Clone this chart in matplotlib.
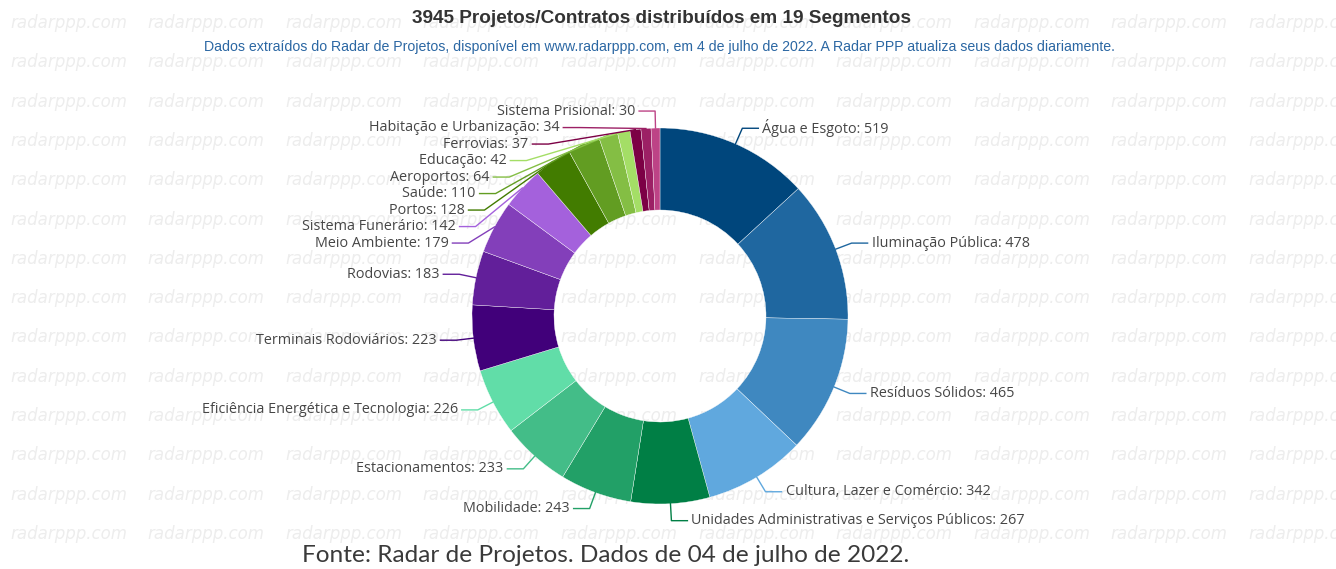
import numpy as np
import matplotlib.pyplot as plt

# Dados (radarppp.com, 04/07/2022)
segmentos = ['Água e Esgoto', 'Iluminação Pública', 'Resíduos Sólidos',
             'Cultura, Lazer e Comércio',
             'Unidades Administrativas e Serviços Públicos', 'Mobilidade',
             'Estacionamentos', 'Eficiência Energética e Tecnologia',
             'Terminais Rodoviários', 'Rodovias', 'Meio Ambiente',
             'Sistema Funerário', 'Portos', 'Saúde', 'Aeroportos', 'Educação',
             'Ferrovias', 'Habitação e Urbanização', 'Sistema Prisional']
projetos = [519, 478, 465, 342, 267, 243, 233, 226, 223, 183, 179, 142, 128,
            110, 64, 42, 37, 34, 30]
cores = ['#00467c', '#1f67a0', '#3f88c0', '#60a8de', '#007f45', '#22a067',
         '#43bd88', '#61dda8', '#41007a', '#621f9a', '#833fba', '#a461dc',
         '#427c00', '#629d22', '#84be44', '#a4de66', '#7c0045', '#9c2065',
         '#bd4386']

titulo = '3945 Projetos/Contratos distribuídos em 19 Segmentos'
subtitulo = ('Dados extraídos do Radar de Projetos, disponível em www.radarppp.com, '
             'em 4 de julho de 2022. A Radar PPP atualiza seus dados diariamente.')
rodape = 'Fonte: Radar de Projetos. Dados de 04 de julho de 2022.'

W, H = 1336, 569
cx, cy = 660, 316          # centro da rosca (pixels)
R = 188                    # raio externo
larg = 82                  # espessura do anel

fig = plt.figure(figsize=(W / 100, H / 100), dpi=100)
ax = fig.add_axes([0, 0, 1, 1])

# marca d'agua
for lin in range(14):
    for col in range(10):
        ax.text(10 + 137.6 * col, 23 + 39.3 * lin, 'radarppp.com',
                fontsize=12, style='italic', color='#ededed',
                family='DejaVu Sans', ha='left', va='center', zorder=0)

# y invertido -> startangle=-90 e counterclock=True = horario a partir do topo
ax.pie(projetos, colors=cores, startangle=-90, counterclock=True,
       radius=R, center=(cx, cy),
       wedgeprops=dict(width=larg, edgecolor='white', linewidth=0.25))
ax.set_xlim(0, W)
ax.set_ylim(H, 0)
ax.axis('off')

# rotulos com linhas guia
vals = np.array(projetos, dtype=float)
meio = (np.cumsum(vals) - vals / 2) / vals.sum() * 2 * np.pi
rr = R + 17
info = []
for i, th in enumerate(meio):
    lado = 1 if np.sin(th) >= 0 else -1
    info.append(dict(i=i, lado=lado,
                     ax=cx + R * np.sin(th), ay=cy - R * np.cos(th),
                     ex=cx + rr * np.sin(th), ey=cy - rr * np.cos(th)))

for lado in (1, -1):
    grupo = sorted([d for d in info if d['lado'] == lado], key=lambda d: d['ey'])
    ult = -1e9
    for d in grupo:
        y0 = d['ey']
        d['ey'] = max(d['ey'], ult + 16.5)
        ult = d['ey']
        if d['ey'] - y0 > 5:
            dy = d['ey'] - cy
            d['ex'] = cx + lado * np.sqrt(max(rr ** 2 - dy ** 2, 0))

for d in info:
    i, lado = d['i'], d['lado']
    hx = d['ex'] + lado * 16
    ax.plot([d['ax'], d['ex'], hx], [d['ay'], d['ey'], d['ey']],
            color=cores[i], lw=1, zorder=3)
    ax.text(hx + lado * 4, d['ey'], f'{segmentos[i]}: {projetos[i]}',
            ha='left' if lado > 0 else 'right', va='center',
            fontsize=10.4, family='Open Sans', color='#464646', zorder=4)

# titulos
ax.text(661, 18, titulo, ha='center', va='center', fontsize=13.7,
        fontweight='bold', family='Liberation Sans', color='#333333')
ax.text(660, 47, subtitulo, ha='center', va='center', fontsize=10.2,
        family='Liberation Sans', color='#2b67a3')
ax.text(606, 556, rodape, ha='center', va='center', fontsize=17.6,
        family='Lato', color='#3a3a3a')

fig.savefig('out.png', dpi=100, facecolor='white')
